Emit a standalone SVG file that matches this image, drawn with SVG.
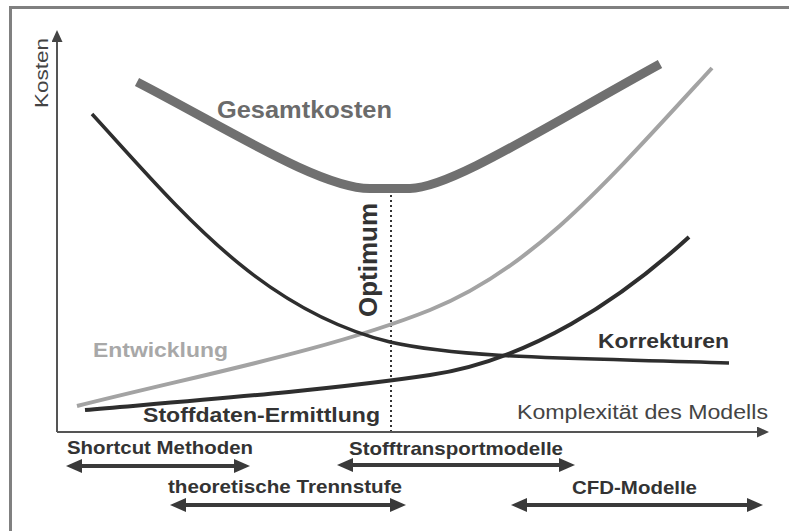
<svg xmlns="http://www.w3.org/2000/svg" width="789" height="531" viewBox="0 0 789 531">
<style>
text{font-family:"Liberation Sans",Arial,sans-serif;}
.b{font-weight:bold;}
.curve{fill:none;stroke-linecap:butt;}
.dark{fill:#333;}
.range{stroke:#3a3a3a;stroke-width:4;fill:none;}
.axis{stroke:#555;stroke-width:2;fill:none;}
</style>
<defs>
<marker id="ah" markerUnits="userSpaceOnUse" markerWidth="16" markerHeight="14" refX="8" refY="7" orient="auto-start-reverse"><path d="M0,0 L16,7 L0,14 Z" fill="#3a3a3a"/></marker>
<marker id="axh" markerUnits="userSpaceOnUse" markerWidth="12" markerHeight="11" refX="4" refY="5.5" orient="auto"><path d="M0,0 L12,5.5 L0,11 Z" fill="#444"/></marker>
</defs>
<rect width="789" height="531" fill="#fff"/>
<g id="frame" stroke="#808080" stroke-width="3" fill="none">
<path d="M10.5,531 L10.5,7.5 L789,7.5"/>
</g>
<g id="axes">
<line class="axis" x1="57" y1="432" x2="761" y2="432" marker-end="url(#axh)"/>
<line class="axis" x1="57" y1="432" x2="57" y2="38" marker-end="url(#axh)"/>
<text transform="translate(48,108) rotate(-90)" font-size="19" textLength="70" lengthAdjust="spacingAndGlyphs" fill="#444">Kosten</text>
<text x="517" y="419" font-size="20" textLength="251" lengthAdjust="spacingAndGlyphs" fill="#444">Komplexität des Modells</text>
</g>
<g id="optimum">
<line x1="391" y1="190" x2="391" y2="431" stroke="#333" stroke-width="2" stroke-dasharray="2,3"/>
<text class="b dark" transform="translate(377,317) rotate(-90)" font-size="26" textLength="114" lengthAdjust="spacingAndGlyphs">Optimum</text>
</g>
<g id="entwicklung">
<path class="curve" d="M77,406 C200,375 330,350 430,310 C530,270 600,190 712,68" stroke="#a3a3a3" stroke-width="4"/>
<text class="b" x="93" y="357" font-size="21" textLength="135" lengthAdjust="spacingAndGlyphs" fill="#a8a8a8">Entwicklung</text>
</g>
<g id="korrekturen">
<path class="curve" d="M92,114 C180,210 260,310 390,342 C470,360 600,358 729,363" stroke="#2e2e2e" stroke-width="3.5"/>
<text class="b dark" x="598" y="348" font-size="21" textLength="131" lengthAdjust="spacingAndGlyphs">Korrekturen</text>
</g>
<g id="stoffdaten">
<path class="curve" d="M85,410 C200,400 330,390 430,375 C530,360 620,300 689,237" stroke="#2e2e2e" stroke-width="4"/>
<text class="b dark" x="143" y="422" font-size="21" textLength="237" lengthAdjust="spacingAndGlyphs">Stoffdaten-Ermittlung</text>
</g>
<g id="gesamtkosten">
<path class="curve" d="M137,82 C230,130 320,188 370,188.5 L410,188.5 C450,188 540,130 660,64" stroke="#707070" stroke-width="9"/>
<text class="b" x="217" y="118" font-size="24" textLength="175" lengthAdjust="spacingAndGlyphs" fill="#6b6b6b">Gesamtkosten</text>
</g>
<g id="ranges">
<line class="range" x1="74" y1="466" x2="242" y2="466" marker-start="url(#ah)" marker-end="url(#ah)"/>
<line class="range" x1="178" y1="505" x2="398" y2="505" marker-start="url(#ah)" marker-end="url(#ah)"/>
<line class="range" x1="345" y1="465" x2="567" y2="465" marker-start="url(#ah)" marker-end="url(#ah)"/>
<line class="range" x1="519" y1="505" x2="755" y2="505" marker-start="url(#ah)" marker-end="url(#ah)"/>
</g>
<g id="range-labels">
<text class="b dark" x="67" y="454" font-size="19" textLength="186" lengthAdjust="spacingAndGlyphs">Shortcut Methoden</text>
<text class="b dark" x="349" y="455" font-size="19" textLength="214" lengthAdjust="spacingAndGlyphs">Stofftransportmodelle</text>
<text class="b dark" x="168" y="493" font-size="19" textLength="234" lengthAdjust="spacingAndGlyphs">theoretische Trennstufe</text>
<text class="b dark" x="572" y="494" font-size="19" textLength="125" lengthAdjust="spacingAndGlyphs">CFD-Modelle</text>
</g>
</svg>
